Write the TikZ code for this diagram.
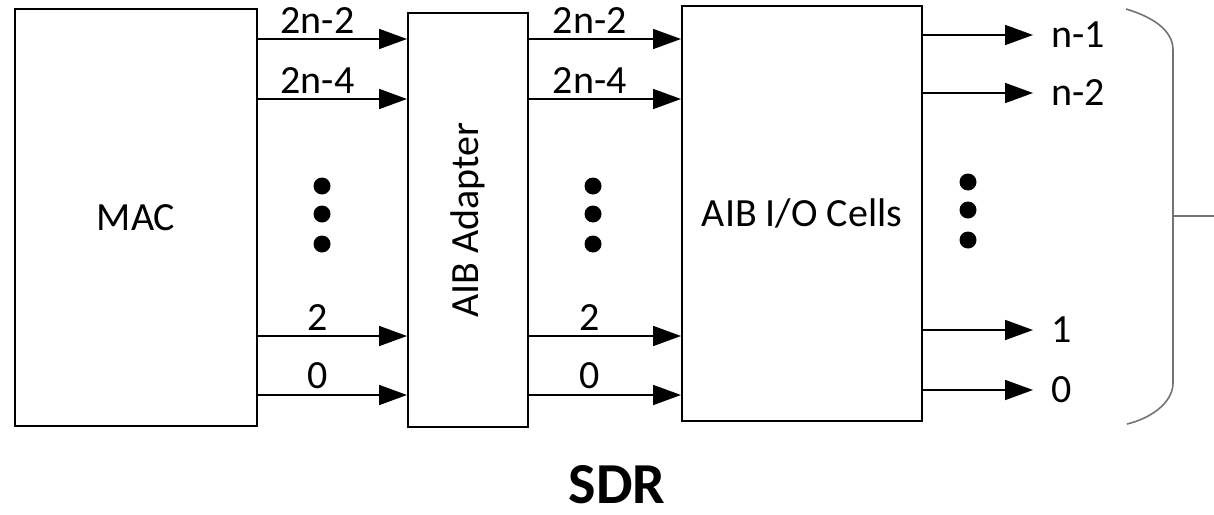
\documentclass[tikz,border=0pt]{standalone}
\usepackage{fontspec}
\usepackage{graphicx}
\setmainfont{Carlito}
\usetikzlibrary{arrows.meta,positioning}
\tikzset{
  box/.style={draw, rectangle, line width=1pt, align=center, inner sep=0pt, font=\fontsize{20}{24}\selectfont},
  arr/.style={-{Triangle[length=14pt, width=10pt]}, line width=0.9pt},
  lbl/.style={font=\fontsize{20}{24}\selectfont, inner sep=2.5pt},
  outlbl/.style={font=\fontsize{20}{24}\selectfont, inner ysep=3pt, inner xsep=9pt, anchor=west},
  dotn/.style={circle, fill, inner sep=0pt, minimum size=8.5pt},
  brace/.style={draw=black!55, line width=0.8pt},
  capn/.style={font=\fontsize{29}{34}\selectfont\bfseries, inner sep=0pt},
}

\begin{document}
\begin{tikzpicture}[x=0.5pt, y=-0.5pt]
\useasboundingbox (0,0) rectangle (1214,514);
\node[box, minimum width=121pt, minimum height=208.5pt, anchor=north west] (mac) at (14,8) {MAC};
\node[box, minimum width=60pt, minimum height=207pt, right=74.5pt of mac, yshift=-1.25pt] (adp) {\rotatebox{90}{AIB Adapter}};
\node[box, minimum width=120pt, minimum height=207.5pt, right=76pt of adp, yshift=3.25pt] (io) {AIB I/O Cells};
% lanes into and out of the adapter
\foreach \y/\t in {39/2n-2, 99/2n-4, 336/2, 395/0} {
  \draw[arr] (mac.east |- 0,\y) -- node[lbl, pos=0.4, above] {\t} (adp.west |- 0,\y);
  \draw[arr] (adp.east |- 0,\y) -- node[lbl, pos=0.4, above] {\t} (io.west |- 0,\y);
}
% pads
\foreach \y/\t/\n in {35/n-1/o1, 93/n-2/o2, 330/1/o3, 390/0/o4} {
  \node[outlbl] (\n) at (1033,\y) {\t};
  \draw[arr] (io.east |- \n) -- (\n.west);
}
\foreach \x/\s in {322/0, 593/0, 968/-4} {
  \foreach \y in {186,214,244} {
    \node[dotn] at (\x,\y+\s) {};
  }
}
\draw[brace] (1126,9) .. controls (1156,18) and (1173,32) .. (1173,50) -- (1173,383) .. controls (1173,402) and (1152,418) .. (1127,424);
\draw[brace] (1173,216) -- (1214,216);
\node[capn] (title) at (617,485) {SDR};
\end{tikzpicture}
\end{document}
